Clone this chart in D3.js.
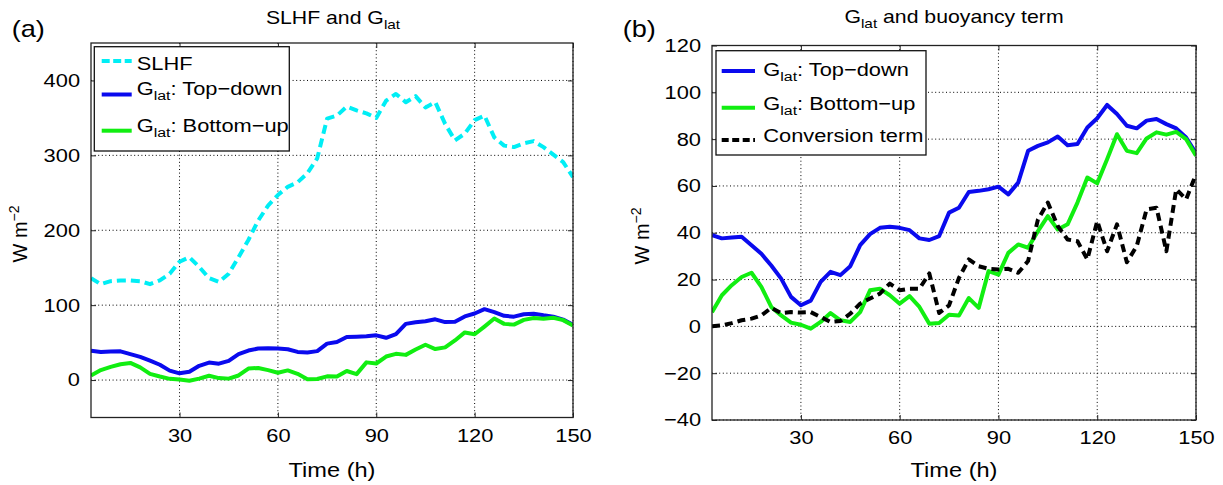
<!DOCTYPE html>
<html>
<head>
<meta charset='utf-8'>
<script src='https://d3js.org/d3.v7.min.js'></script>
<style>
  body { margin: 0; background: #fff; }
  svg { display: block; font-family: 'Liberation Sans', Arial, Helvetica, sans-serif; }
</style>
</head>
<body>
<svg width='1223' height='485'></svg>
<script>

// 3-hourly output times (h)
var hours = [3, 6, 9, 12, 15, 18, 21, 24, 27, 30,
    33, 36, 39, 42, 45, 48, 51, 54, 57, 60,
    63, 66, 69, 72, 75, 78, 81, 84, 87, 90,
    93, 96, 99, 102, 105, 108, 111, 114, 117, 120,
    123, 126, 129, 132, 135, 138, 141, 144, 147, 150];

// values, W m-2
var slhf = [136, 128, 132, 133, 133, 132, 128, 133, 142, 158,
    164, 151, 136, 131, 142, 164, 187, 213, 233, 247,
    258, 264, 276, 296, 349, 353, 365, 360, 356, 350,
    373, 382, 371, 379, 364, 371, 342, 320, 329, 347,
    353, 324, 313, 311, 316, 319, 311, 301, 291, 271];

var topDown = [39, 37.6, 38, 38.3, 34.7, 31, 26, 20.4, 12.6, 9,
    11, 19, 23.3, 21.9, 25.7, 34.7, 39.4, 42.1, 42.6, 42.1,
    41.1, 37.6, 36.9, 38.6, 48.6, 50.7, 57.4, 57.9, 58.6, 59.7,
    56.4, 61.4, 75, 77.1, 78.6, 81.1, 77.4, 77.9, 85, 88.9,
    94.6, 90.7, 85.7, 84.6, 87.9, 88.6, 86.4, 84.6, 80.7, 74];

var bottomUp = [6, 13.3, 17.6, 21.1, 22.9, 16.9, 8.3, 4.7, 1.6, 0.7,
    -1, 1.9, 5.7, 2.6, 1.9, 6.1, 15.4, 16.1, 13.3, 9.7,
    12.9, 8.3, 1.1, 1.4, 5, 4.6, 12.1, 7.9, 23.6, 22.1,
    31.4, 35, 33.6, 40.7, 47.1, 41.4, 43.6, 52.9, 63.6, 61.1,
    71.4, 82.1, 75, 74, 80.3, 82.9, 81.9, 83.1, 80, 72.9];

var conversion = [0.1, 0.4, 1.4, 2.6, 3.3, 4.7, 7.9, 5.7, 6.1, 5.9,
    6.1, 4, 1.9, 2.3, 5.4, 9.7, 11.9, 14, 18.3, 15.4,
    16.1, 16.1, 22.6, 5.7, 9, 20.7, 28.6, 25.7, 24.6, 24.3,
    24.6, 22.9, 27.9, 45.7, 52.9, 42.9, 37.1, 36.4, 28.6, 45,
    32.1, 43.6, 27.4, 34.3, 50, 50.7, 32.1, 58.6, 54.3, 65];

var xTicks = [30, 60, 90, 120, 150];
var yTicksA = [0, 100, 200, 300, 400];
var yTicksB = [-40, -20, 0, 20, 40, 60, 80, 100, 120];

var svg = d3.select('svg');

// the source figure is stretched sideways a little, so the text is too
var SX = 1.18;

var cyan = '#00eef5', blue = '#0a0aee', green = '#11ee11';

// text placed at x,y and widened by SX
function stext(parent, x, y, size, anchor) {
    return parent.append('text')
        .attr('transform', 'translate(' + x + ',' + y + ') scale(' + SX + ',1)')
        .attr('text-anchor', anchor || 'start')
        .style('font-size', size + 'px')
        .attr('fill', '#000');
}

// prefix + "G" with subscript "lat" + rest
function glat(text, before, rest, sub) {
    if (before) text.append('tspan').text(before);
    text.append('tspan').text('G');
    text.append('tspan').attr('dy', 5).style('font-size', sub + 'px').text('lat');
    if (rest) text.append('tspan').attr('dy', -5).text(rest);
    return text;
}

function makePanel(box, yDomain, yTicks, id) {
    var x = d3.scaleLinear().domain([3, 150]).range([box.left, box.right]);
    var y = d3.scaleLinear().domain(yDomain).range([box.bottom, box.top]);
    var g = svg.append('g');

    g.append('clipPath').attr('id', id)
        .append('rect')
        .attr('x', box.left).attr('y', box.top)
        .attr('width', box.right - box.left).attr('height', box.bottom - box.top);

    // dotted grid
    g.append('g').selectAll('line')
        .data(xTicks)
        .enter()
        .append('line')
        .attr('x1', function (d) { return x(d); })
        .attr('x2', function (d) { return x(d); })
        .attr('y1', box.top).attr('y2', box.bottom)
        .attr('stroke', '#000').attr('stroke-width', 1)
        .attr('stroke-dasharray', '1,2.6');

    g.append('g').selectAll('line')
        .data(yTicks)
        .enter()
        .append('line')
        .attr('y1', function (d) { return y(d); })
        .attr('y2', function (d) { return y(d); })
        .attr('x1', box.left).attr('x2', box.right)
        .attr('stroke', '#000').attr('stroke-width', 1)
        .attr('stroke-dasharray', '1,2.6');

    // ticks point inwards, like matlab
    var xb = g.append('g').attr('transform', 'translate(0,' + box.bottom + ')')
        .call(d3.axisBottom(x).tickValues(xTicks).tickSize(-5).tickPadding(11));
    var yl = g.append('g').attr('transform', 'translate(' + box.left + ',0)')
        .call(d3.axisLeft(y).tickValues(yTicks).tickSize(-5).tickPadding(11));
    g.append('g').attr('transform', 'translate(0,' + box.top + ')')
        .call(d3.axisTop(x).tickValues(xTicks).tickSize(-5).tickFormat(''));
    g.append('g').attr('transform', 'translate(' + box.right + ',0)')
        .call(d3.axisRight(y).tickValues(yTicks).tickSize(-5).tickFormat(''));

    g.selectAll('.domain').remove();
    g.selectAll('.tick line').attr('stroke', '#222');
    g.selectAll('g').attr('font-family', null).attr('font-size', null);
    g.selectAll('.tick text').style('font-size', '18.5px').attr('fill', '#000');
    xb.selectAll('text').attr('transform', 'scale(' + SX + ',1)');
    yl.selectAll('text').attr('x', -11 / SX).attr('transform', 'scale(' + SX + ',1)');

    var lines = g.append('g').attr('clip-path', 'url(#' + id + ')');

    return { g: g, x: x, y: y, lines: lines, box: box };
}

function addLine(p, values, color, dash) {
    p.lines.append('path')
        .datum(d3.zip(hours, values))
        .attr('fill', 'none')
        .attr('stroke', color)
        .attr('stroke-width', 4)
        .attr('stroke-linejoin', 'round')
        .attr('stroke-dasharray', dash || null)
        .attr('d', d3.line()
            .x(function (d) { return p.x(d[0]); })
            .y(function (d) { return p.y(d[1]); })
        );
}

function frame(p) {
    var b = p.box;
    p.g.append('rect')
        .attr('x', b.left).attr('y', b.top)
        .attr('width', b.right - b.left).attr('height', b.bottom - b.top)
        .attr('fill', 'none').attr('stroke', '#222').attr('stroke-width', 1.3);
}

function legendBox(x0, y0, x1, y1) {
    svg.append('rect')
        .attr('x', x0).attr('y', y0)
        .attr('width', x1 - x0).attr('height', y1 - y0)
        .attr('fill', '#fff').attr('stroke', '#111').attr('stroke-width', 1.3);
}

function sample(x0, x1, y, color, dash) {
    svg.append('line')
        .attr('x1', x0).attr('x2', x1).attr('y1', y).attr('y2', y)
        .attr('stroke', color).attr('stroke-width', 4)
        .attr('stroke-dasharray', dash || null);
}

function yLabel(x, y) {
    var t = svg.append('text')
        .attr('transform', 'translate(' + x + ',' + y + ') rotate(-90)')
        .attr('text-anchor', 'middle')
        .style('font-size', '20px');
    t.append('tspan').text('W m');
    t.append('tspan').attr('dy', -8).style('font-size', '14px').text('\u22122');
}

// ---- panel (a)
var pa = makePanel({ left: 91, right: 573, top: 43, bottom: 417.5 }, [-50, 450], yTicksA, 'clipA');
addLine(pa, slhf, cyan, '9,5');
addLine(pa, topDown, blue);
addLine(pa, bottomUp, green);
frame(pa);

legendBox(94.3, 46.7, 289.3, 151);
sample(101.7, 131.7, 61, cyan, '8,3.5');
sample(101.7, 131.7, 94.5, blue);
sample(101.7, 131.7, 130.7, green);
stext(svg, 136.7, 70, 18.5).text('SLHF');
glat(stext(svg, 136.7, 95, 18.5), '', ': Top\u2212down', 13.5);
glat(stext(svg, 136.7, 132.3, 18.5), '', ': Bottom\u2212up', 13.5);

stext(svg, 11.7, 37.3, 23).text('(a)');
glat(stext(svg, 333, 24, 18, 'middle'), 'SLHF and ', '', 13);
stext(svg, 332, 476.7, 20, 'middle').text('Time (h)');
yLabel(27, 234);

// ---- panel (b)
var pb = makePanel({ left: 712, right: 1196, top: 45.5, bottom: 420 }, [-40, 120], yTicksB, 'clipB');
addLine(pb, topDown, blue);
addLine(pb, bottomUp, green);
addLine(pb, conversion, '#000', '8,5');
frame(pb);

legendBox(716, 50.7, 926, 155);
sample(721.7, 755, 71, blue);
sample(721.7, 755, 107.7, green);
sample(721.7, 755, 140, '#000', '7,3.5');
glat(stext(svg, 763.3, 76, 18.5), '', ': Top\u2212down', 13.5);
glat(stext(svg, 763.3, 110, 18.5), '', ': Bottom\u2212up', 13.5);
stext(svg, 763.3, 141.7, 18.5).text('Conversion term');

stext(svg, 622.7, 37, 23).text('(b)');
glat(stext(svg, 954, 23, 18, 'middle'), '', ' and buoyancy term', 13);
stext(svg, 954, 476.7, 20, 'middle').text('Time (h)');
yLabel(649, 236);

</script>
</body>
</html>
